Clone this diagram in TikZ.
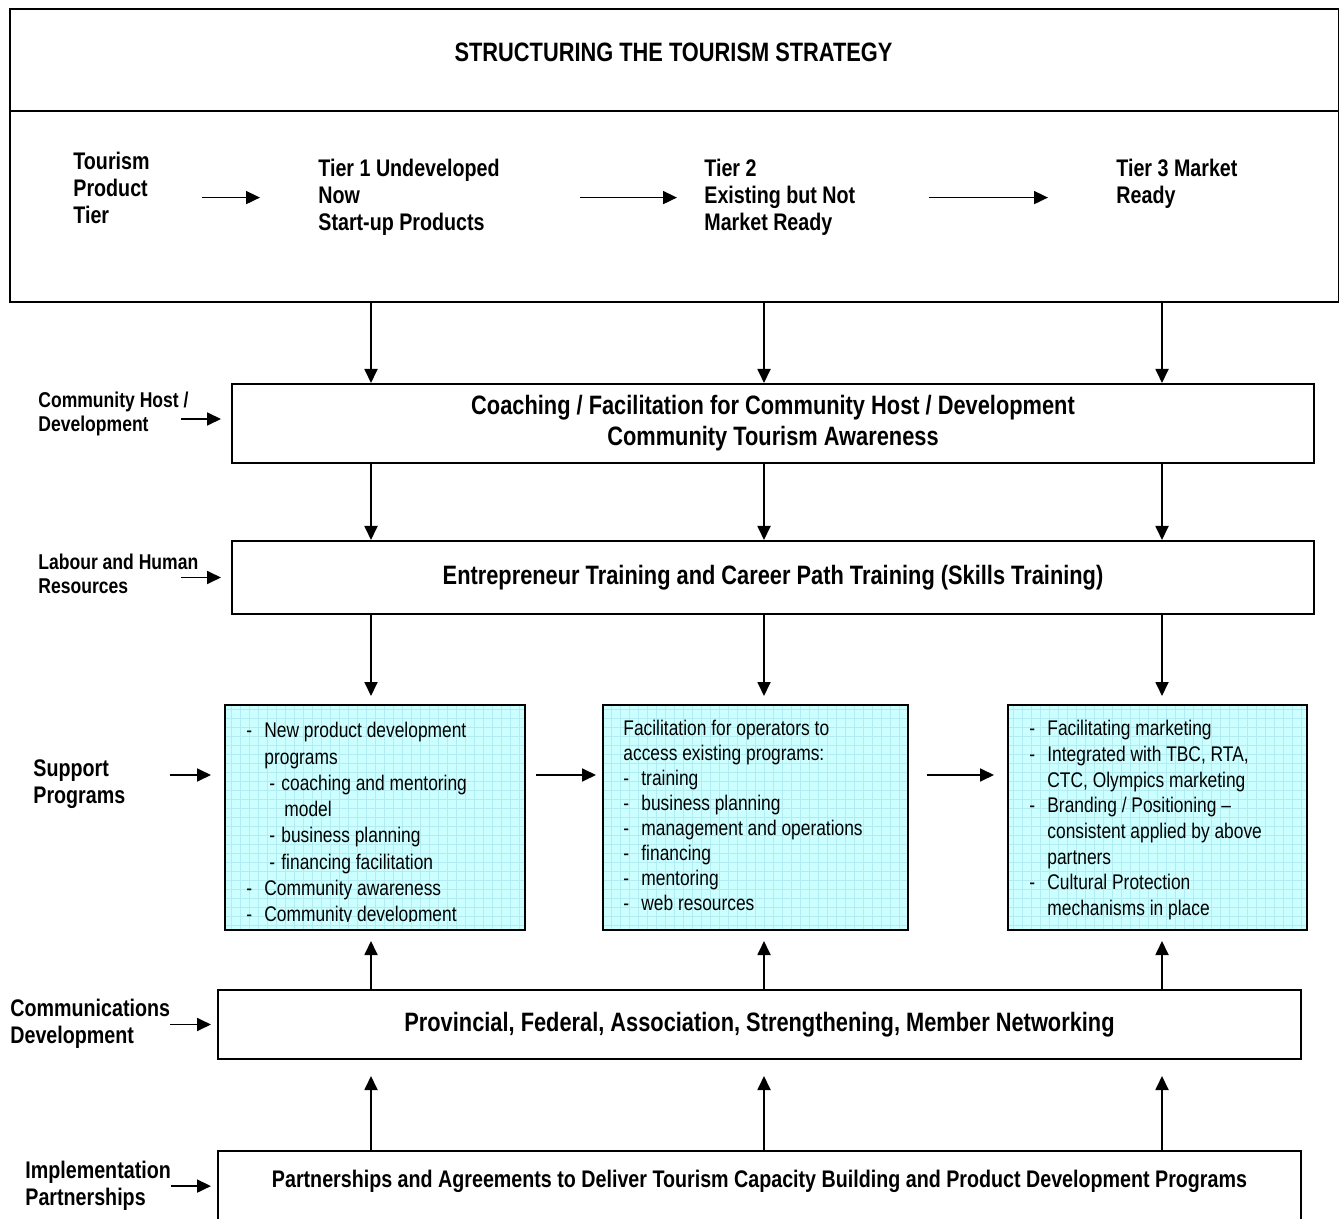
\documentclass[tikz,border=0pt]{standalone}
\usepackage{fontspec}
\setmainfont{Liberation Sans}[FakeStretch=0.82]
\usetikzlibrary{arrows.meta}
\definecolor{progfill}{RGB}{204,255,255}
\definecolor{proggrid}{RGB}{178,236,242}
\newcommand{\itemdash}{\makebox[9pt][l]{-}}
\begin{document}
\begin{tikzpicture}[x=0.5pt,y=-0.5pt,
box/.style={draw,line width=1pt,minimum width=541pt,inner sep=0pt,align=center,font=\fontsize{13.3}{15.5}\selectfont\bfseries},
prog/.style={draw,line width=1pt,fill=progfill,minimum height=112.5pt,inner sep=0pt,
 path picture={\draw[proggrid,line width=0.35pt] (path picture bounding box.south west) grid[step=4.5pt] (path picture bounding box.north east);}},
plist/.style={anchor=north west,inner sep=0pt,align=left,font=\fontsize{10.6}{12.85}\selectfont},
tier/.style={anchor=north west,inner sep=0pt,align=left,font=\fontsize{12}{13.5}\selectfont\bfseries},
side/.style={anchor=north west,inner sep=0pt,align=left,font=\fontsize{10.7}{12}\selectfont\bfseries},
sidebig/.style={side,font=\fontsize{12}{13.5}\selectfont\bfseries},
arr/.style={-{Triangle[length=7pt,width=6.5pt]},line width=0.9pt}]
\useasboundingbox (0,0) rectangle (1339,1219);
\node[draw,line width=1pt,minimum width=664.5pt,minimum height=51pt,anchor=north west] (head) at (9,8) {};
\node[draw,line width=1pt,minimum width=664.5pt,minimum height=95.5pt,anchor=north west] (tiers) at (9,110) {};
\node[font=\fontsize{13.3}{15.5}\selectfont\bfseries] (headtxt) at (673.5,52) {STRUCTURING THE TOURISM STRATEGY};
\node[tier] (ptier) at (73,152) {Tourism\\Product\\Tier};
\node[tier] (t1) at (318,159) {Tier 1 Undeveloped\\Now\\Start-up Products};
\node[tier] (t2) at (704,159) {Tier 2\\Existing but Not\\Market Ready};
\node[tier] (t3) at (1116,159) {Tier 3 Market\\Ready};
\draw[arr,shorten <=26pt,shorten >=29pt] (ptier.east |- t1.west) -- (t1.west);
\draw[arr,shorten <=40pt,shorten >=13.5pt] (t1.east |- t2.west) -- (t2.west);
\draw[arr,shorten <=36.5pt,shorten >=34pt] (t2.east) -- (t2.east -| t3.west);

\node[box,minimum height=39.5pt] (coach) at (773,423.5) {Coaching / Facilitation for Community Host / Development\\Community Tourism Awareness};
\node[box,minimum height=36.5pt] (entre) at (773,577.5) {Entrepreneur Training and Career Path Training (Skills Training)};
\node[side] (hostlbl) at (38,392) {Community Host /\\Development};
\node[side] (labourlbl) at (38,554) {Labour and Human\\Resources};
\draw[arr] ([xshift=-25pt,yshift=2.25pt]coach.west) -- ([xshift=-5pt,yshift=2.25pt]coach.west);
\draw[arr] ([xshift=-25pt]entre.west) -- ([xshift=-5pt]entre.west);

\coordinate (c1) at (371,0);
\coordinate (c2) at (764,0);
\coordinate (c3) at (1162,0);
\coordinate (row) at (0,775);
\draw[arr] (c1 |- tiers.south) -- (c1 |- coach.north);
\draw[arr] (c2 |- tiers.south) -- (c2 |- coach.north);
\draw[arr] (c3 |- tiers.south) -- (c3 |- coach.north);
\draw[arr] (c1 |- coach.south) -- (c1 |- entre.north);
\draw[arr] (c2 |- coach.south) -- (c2 |- entre.north);
\draw[arr] (c3 |- coach.south) -- (c3 |- entre.north);

\node[prog,minimum width=150pt] (sp1) at (375,817.5) {};
\node[prog,minimum width=152.5pt] (sp2) at (755.5,817.5) {};
\node[prog,minimum width=149.5pt] (sp3) at (1157.5,817.5) {};
\begin{scope}
\clip ([yshift=5pt]sp1.south west) rectangle (sp1.north east);
\node[plist,font=\fontsize{10.6}{13.15}\selectfont] (sp1txt) at ([xshift=11pt,yshift=-9pt]sp1.north west) {\itemdash New product development\\
\hspace*{9pt}programs\\
\hspace*{11.5pt}\makebox[6pt][l]{-}coaching and mentoring\\
\hspace*{19pt}model\\
\hspace*{11.5pt}\makebox[6pt][l]{-}business planning\\
\hspace*{11.5pt}\makebox[6pt][l]{-}financing facilitation\\
\itemdash Community awareness\\
\itemdash Community development};
\end{scope}
\node[plist,font=\fontsize{10.6}{12.5}\selectfont] (sp2txt) at ([xshift=10.5pt,yshift=-8pt]sp2.north west) {Facilitation for operators to\\
access existing programs:\\
\itemdash training\\
\itemdash business planning\\
\itemdash management and operations\\
\itemdash financing\\
\itemdash mentoring\\
\itemdash web resources};
\node[plist] (sp3txt) at ([xshift=11pt,yshift=-8pt]sp3.north west) {\itemdash Facilitating marketing\\
\itemdash Integrated with TBC, RTA,\\
\hspace*{9pt}CTC, Olympics marketing\\
\itemdash Branding / Positioning --\\
\hspace*{9pt}consistent applied by above\\
\hspace*{9pt}partners\\
\itemdash Cultural Protection\\
\hspace*{9pt}mechanisms in place};
\node[sidebig] (suplbl) at (33,759) {Support\\Programs};
\draw[arr,shorten <=22pt,shorten >=6.5pt] (row -| suplbl.east) -- (row -| sp1.west);
\draw[arr,shorten <=5pt,shorten >=3pt] (row -| sp1.east) -- (row -| sp2.west);
\draw[arr,shorten <=9pt,shorten >=6.5pt] (row -| sp2.east) -- (row -| sp3.west);
\draw[arr,shorten >=4pt] (c1 |- entre.south) -- (c1 |- sp1.north);
\draw[arr,shorten >=4pt] (c2 |- entre.south) -- (c2 |- sp2.north);
\draw[arr,shorten >=4pt] (c3 |- entre.south) -- (c3 |- sp3.north);

\node[box,minimum width=541.5pt,minimum height=34.5pt] (prov) at (759.5,1024.5) {Provincial, Federal, Association, Strengthening, Member Networking};
\node[draw,line width=1pt,minimum width=541.5pt,minimum height=50pt,anchor=north] (part) at (759.5,1150) {};
\node[font=\fontsize{12}{13.5}\selectfont\bfseries] (parttxt) at (759.5,1181) {Partnerships and Agreements to Deliver Tourism Capacity Building and Product Development Programs};
\node[sidebig] (commlbl) at (10,999) {Communications\\Development};
\node[sidebig] (impllbl) at (25,1161) {Implementation\\Partnerships};
\draw[arr,shorten >=3pt] (commlbl.east |- prov.west) -- (prov.west);
\draw[arr,shorten >=3pt] (impllbl.east) -- (impllbl.east -| part.west);
\draw[arr,shorten >=5pt] (c1 |- prov.north) -- (c1 |- sp1.south);
\draw[arr,shorten >=5pt] (c2 |- prov.north) -- (c2 |- sp2.south);
\draw[arr,shorten >=5pt] (c3 |- prov.north) -- (c3 |- sp3.south);
\draw[arr,shorten >=8pt] (c1 |- part.north) -- (c1 |- prov.south);
\draw[arr,shorten >=8pt] (c2 |- part.north) -- (c2 |- prov.south);
\draw[arr,shorten >=8pt] (c3 |- part.north) -- (c3 |- prov.south);
\end{tikzpicture}
\end{document}
